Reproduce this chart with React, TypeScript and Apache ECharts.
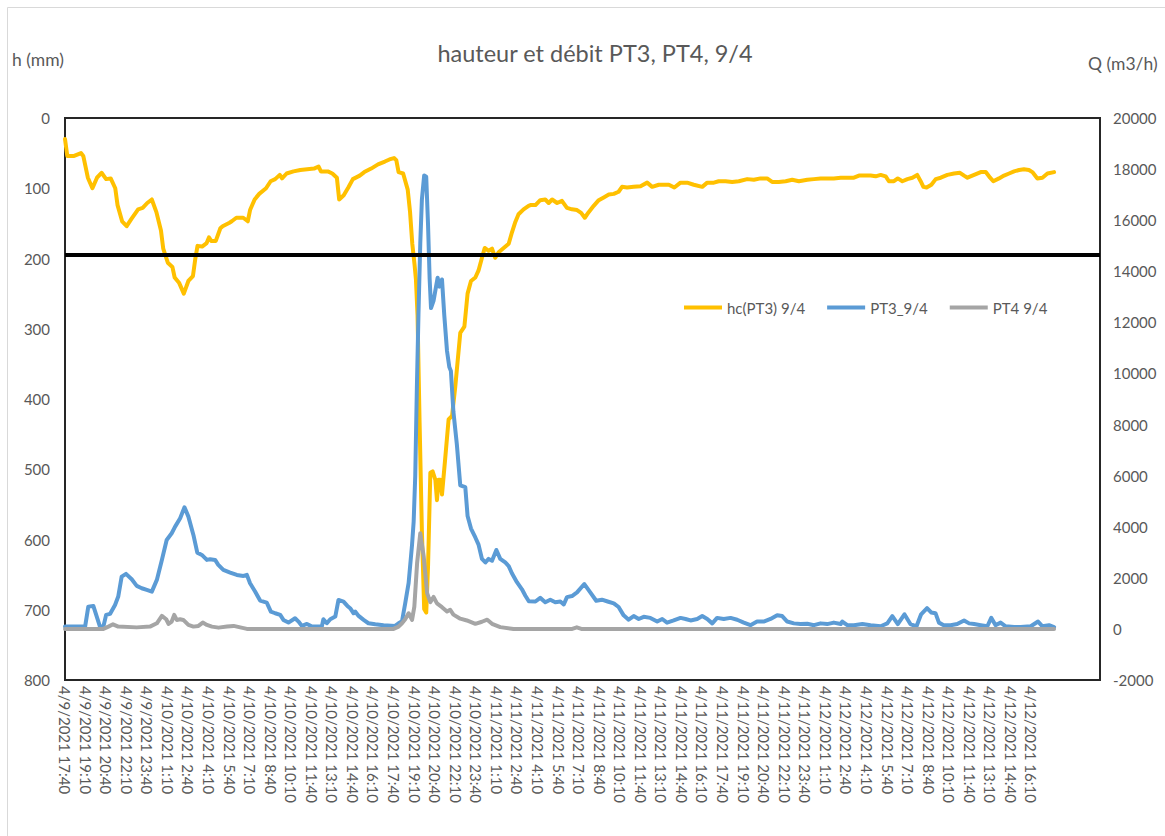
import React, { useEffect, useRef } from 'react';
import * as echarts from 'echarts';

// x values are minutes elapsed since 4/9/2021 17:40 (10-minute records)
const xTickLabels: string[] = [
  '4/9/2021 17:40', '4/9/2021 19:10', '4/9/2021 20:40', '4/9/2021 22:10', '4/9/2021 23:40',
  '4/10/2021 1:10', '4/10/2021 2:40', '4/10/2021 4:10', '4/10/2021 5:40', '4/10/2021 7:10',
  '4/10/2021 8:40', '4/10/2021 10:10', '4/10/2021 11:40', '4/10/2021 13:10', '4/10/2021 14:40',
  '4/10/2021 16:10', '4/10/2021 17:40', '4/10/2021 19:10', '4/10/2021 20:40', '4/10/2021 22:10',
  '4/10/2021 23:40', '4/11/2021 1:10', '4/11/2021 2:40', '4/11/2021 4:10', '4/11/2021 5:40',
  '4/11/2021 7:10', '4/11/2021 8:40', '4/11/2021 10:10', '4/11/2021 11:40', '4/11/2021 13:10',
  '4/11/2021 14:40', '4/11/2021 16:10', '4/11/2021 17:40', '4/11/2021 19:10', '4/11/2021 20:40',
  '4/11/2021 22:10', '4/11/2021 23:40', '4/12/2021 1:10', '4/12/2021 2:40', '4/12/2021 4:10',
  '4/12/2021 5:40', '4/12/2021 7:10', '4/12/2021 8:40', '4/12/2021 10:10', '4/12/2021 11:40',
  '4/12/2021 13:10', '4/12/2021 14:40', '4/12/2021 16:10',
];

// hc(PT3) 9/4 : height in mm (left axis, inverted)
const hcPT3: [number, number][] = [
  [0,30],[10,54],[40,54],[70,50],[80,54],[100,85],[120,100],[140,85],[160,78],[180,87],[200,86],[220,100],
  [230,124],[250,147],[270,154],[290,144],[320,130],[340,128],[360,121],[380,116],[400,134],[420,160],[430,186],
  [450,206],[470,212],[480,227],[500,235],[520,250],[540,232],[560,225],[570,201],[580,182],[600,183],[620,178],
  [630,170],[640,175],[660,175],[680,157],[690,154],[720,149],[730,147],[750,142],[780,142],[800,147],[810,131],
  [830,116],[850,108],[880,100],[900,90],[920,87],[940,81],[950,86],[970,79],[1000,76],[1030,74],[1060,73],
  [1090,72],[1110,69],[1120,76],[1150,76],[1170,79],[1190,85],[1200,116],[1220,110],[1240,99],[1260,87],[1290,82],
  [1310,77],[1340,72],[1370,66],[1400,62],[1420,59],[1440,57],[1450,60],[1460,77],[1480,79],[1500,102],[1510,133],
  [1520,179],[1530,209],[1536,230],[1543,281],[1552,434],[1562,587],[1572,699],[1581,704],[1589,638],[1599,505],
  [1609,503],[1621,515],[1628,544],[1635,515],[1643,515],[1650,536],[1664,485],[1679,429],[1694,424],[1708,383],
  [1730,306],[1748,297],[1762,250],[1777,232],[1796,227],[1810,217],[1825,199],[1837,185],[1854,189],[1869,186],
  [1883,199],[1898,191],[1920,185],[1942,179],[1956,163],[1971,148],[1985,137],[2007,130],[2029,125],[2037,124],
  [2059,124],[2080,117],[2102,116],[2117,121],[2132,116],[2154,121],[2175,118],[2197,128],[2219,130],[2241,131],
  [2259,135],[2275,142],[2292,134],[2314,125],[2336,117],[2358,113],[2380,109],[2402,108],[2423,105],[2438,98],
  [2460,99],[2489,98],[2519,97],[2548,92],[2570,98],[2599,95],[2621,95],[2643,95],[2667,99],[2694,92],[2723,92],
  [2752,95],[2789,98],[2811,92],[2840,92],[2861,90],[2891,90],[2920,91],[2949,90],[2986,87],[3015,88],[3044,86],
  [3073,86],[3095,91],[3124,91],[3154,90],[3183,88],[3212,90],[3249,88],[3278,87],[3307,86],[3336,86],[3365,86],
  [3395,85],[3424,85],[3453,85],[3475,82],[3504,82],[3526,82],[3548,83],[3570,81],[3592,83],[3606,90],[3628,90],
  [3645,86],[3665,90],[3687,87],[3709,85],[3730,81],[3745,90],[3757,98],[3771,99],[3792,95],[3811,87],[3833,85],
  [3862,81],[3891,79],[3917,78],[3935,82],[3950,85],[3979,81],[4008,77],[4030,77],[4049,85],[4063,90],[4088,86],
  [4110,82],[4132,79],[4154,76],[4176,74],[4197,73],[4219,74],[4234,77],[4256,86],[4278,85],[4300,79],[4329,77],
];

// PT3_9/4 : flow in m3/h (right axis)
const flowPT3: [number, number][] = [
  [0,90],[88,90],[102,873],[124,900],[139,482],[153,90],[168,90],[180,548],[197,587],[219,939],[233,1266],
  [248,2048],[267,2153],[292,1944],[314,1683],[336,1592],[358,1526],[380,1461],[402,1918],[424,2701],[445,3483],
  [467,3745],[482,4005],[504,4332],[523,4763],[540,4396],[562,3679],[579,2986],[599,2896],[621,2701],[635,2728],
  [657,2701],[671,2505],[693,2309],[723,2205],[752,2114],[781,2074],[796,2114],[810,1788],[832,1461],[854,1109],
  [883,1031],[901,679],[920,613],[942,548],[956,352],[978,248],[1007,418],[1022,287],[1037,117],[1059,196],
  [1081,90],[1124,90],[1131,378],[1146,222],[1161,378],[1183,482],[1197,1135],[1219,1070],[1236,900],[1248,810],
  [1263,613],[1270,679],[1285,509],[1307,352],[1328,222],[1358,183],[1394,144],[1445,117],[1460,222],[1475,300],
  [1489,1000],[1504,1800],[1519,3300],[1526,4200],[1533,6000],[1540,9400],[1547,12300],[1555,15100],[1562,16800],
  [1572,17750],[1581,17700],[1589,15800],[1596,13700],[1602,12560],[1613,12840],[1624,13400],[1631,13750],
  [1639,13400],[1650,13680],[1660,12280],[1672,10880],[1682,10250],[1689,10100],[1700,8500],[1715,7230],
  [1730,5620],[1752,5550],[1762,4420],[1777,3930],[1796,3580],[1810,3300],[1825,2740],[1840,2600],[1854,2740],
  [1869,2670],[1888,3090],[1905,2740],[1927,2600],[1942,2460],[1956,2180],[1978,1830],[2000,1550],[2015,1300],
  [2030,1080],[2059,1072],[2080,1215],[2102,1044],[2124,1143],[2146,1044],[2168,1072],[2183,958],[2197,1243],
  [2219,1286],[2241,1428],[2273,1756],[2299,1428],[2325,1101],[2350,1143],[2375,1072],[2402,1001],[2423,858],
  [2445,531],[2467,360],[2489,502],[2511,388],[2533,474],[2562,431],[2592,289],[2614,388],[2635,246],[2664,331],
  [2694,431],[2716,388],[2738,331],[2767,388],[2789,502],[2811,388],[2833,217],[2854,431],[2883,388],[2913,431],
  [2942,360],[2971,246],[3000,146],[3029,289],[3058,289],[3088,388],[3117,531],[3139,502],[3161,289],[3190,217],
  [3219,189],[3249,200],[3278,146],[3307,217],[3336,189],[3365,246],[3395,189],[3402,289],[3424,146],[3453,146],
  [3490,189],[3526,146],[3570,103],[3599,217],[3621,502],[3645,189],[3674,573],[3700,189],[3727,103],[3747,573],
  [3773,815],[3791,644],[3810,616],[3825,246],[3846,146],[3876,146],[3905,189],[3935,331],[3957,217],[3979,189],
  [4008,146],[4037,103],[4054,431],[4073,146],[4095,246],[4117,103],[4154,74],[4183,74],[4227,103],[4259,289],
  [4278,103],[4307,146],[4329,74],
];

// PT4 9/4 : flow in m3/h (right axis)
const flowPT4: [number, number][] = [
  [0,0],[168,0],[190,90],[210,180],[233,90],[314,60],[372,90],[402,220],[424,509],[443,378],[453,196],[467,287],
  [478,548],[489,352],[504,378],[518,352],[540,157],[562,90],[584,117],[603,248],[621,157],[643,90],[672,50],
  [709,90],[738,117],[767,60],[796,0],[1438,0],[1460,90],[1475,220],[1489,378],[1504,613],[1519,352],[1529,873],
  [1541,2570],[1555,3744],[1570,2831],[1585,1400],[1599,1050],[1613,1250],[1628,1000],[1650,850],[1672,680],
  [1686,750],[1700,560],[1730,400],[1759,330],[1796,200],[1825,280],[1848,360],[1869,200],[1905,70],[1963,0],
  [2220,0],[2240,60],[2260,0],[4329,0],
];

const thresholdH = 195;
const seriesNames = ['hc(PT3) 9/4', 'PT3_9/4', 'PT4 9/4'];

const FONT = "Lato, 'Liberation Sans', sans-serif";
const TXT = '#595959';

export default function App() {
  const ref = useRef<HTMLDivElement>(null);
  useEffect(() => {
    const chart = echarts.init(ref.current!, null, { renderer: 'svg' });
    chart.setOption({
      animation: false,
      backgroundColor: '#ffffff',
      textStyle: { fontFamily: FONT },
      title: {
        text: 'hauteur et débit PT3, PT4, 9/4',
        left: 590,
        textAlign: 'center',
        top: 36,
        textStyle: { fontFamily: FONT, fontSize: 23.5, fontWeight: 'normal', color: TXT },
      },
      legend: {
        data: seriesNames,
        left: 679,
        top: 295,
        icon: 'rect',
        itemWidth: 38,
        itemHeight: 4,
        itemGap: 22,
        textStyle: { fontFamily: FONT, fontSize: 15, color: TXT },
      },
      grid: {
        left: 65,
        top: 118,
        width: 1035,
        height: 562,
        show: true,
        borderColor: '#262626',
        borderWidth: 2,
        containLabel: false,
      },
      graphic: [
        { type: 'line', silent: true, shape: { x1: 7.5, y1: 7.5, x2: 1165, y2: 7.5 }, style: { stroke: '#D9D9D9', lineWidth: 1 } },
        { type: 'line', silent: true, shape: { x1: 7.5, y1: 7.5, x2: 7.5, y2: 836 }, style: { stroke: '#D9D9D9', lineWidth: 1 } },
        { type: 'text', left: 12, top: 50, style: { text: 'h (mm)', fontFamily: FONT, fontSize: 17.5, fill: TXT } },
        { type: 'text', left: 1088, top: 54, style: { text: 'Q (m3/h)', fontFamily: FONT, fontSize: 17.5, fill: TXT } },
      ],
      xAxis: {
        type: 'value',
        min: 0,
        max: 4530,
        interval: 90,
        axisLine: { show: false },
        axisTick: { show: false },
        splitLine: { show: false },
        axisLabel: {
          rotate: -90,
          margin: 6,
          color: TXT,
          fontFamily: FONT,
          fontSize: 15,
          showMinLabel: true,
          showMaxLabel: false,
          hideOverlap: false,
          formatter: (v: number) => {
            const i = Math.round(v / 90);
            if (Math.abs(v - i * 90) > 1e-6 || i < 0 || i >= xTickLabels.length) return '';
            return xTickLabels[i];
          },
        },
      },
      yAxis: [
        {
          type: 'value',
          inverse: true,
          min: 0,
          max: 800,
          interval: 100,
          axisLine: { show: false },
          axisTick: { show: false },
          splitLine: { show: false },
          axisLabel: { color: TXT, fontFamily: FONT, fontSize: 15, margin: 15, formatter: (v: number) => String(v) },
        },
        {
          type: 'value',
          min: -2000,
          max: 20000,
          interval: 2000,
          axisLine: { show: false },
          axisTick: { show: false },
          splitLine: { show: false },
          axisLabel: { color: TXT, fontFamily: FONT, fontSize: 15, margin: 13, formatter: (v: number) => String(v) },
        },
      ],
      series: [
        {
          name: seriesNames[0],
          type: 'line',
          yAxisIndex: 0,
          data: hcPT3,
          showSymbol: false,
          symbol: 'none',
          lineStyle: { color: '#FFC000', width: 4, join: 'round', cap: 'round' },
          itemStyle: { color: '#FFC000' },
          markLine: {
            silent: true,
            symbol: 'none',
            label: { show: false },
            lineStyle: { color: '#000000', width: 4, type: 'solid' },
            data: [{ yAxis: thresholdH }],
          },
        },
        {
          name: seriesNames[1],
          type: 'line',
          yAxisIndex: 1,
          data: flowPT3,
          showSymbol: false,
          symbol: 'none',
          lineStyle: { color: '#5B9BD5', width: 4, join: 'round', cap: 'round' },
          itemStyle: { color: '#5B9BD5' },
        },
        {
          name: seriesNames[2],
          type: 'line',
          yAxisIndex: 1,
          data: flowPT4,
          showSymbol: false,
          symbol: 'none',
          lineStyle: { color: '#A5A5A5', width: 4, join: 'round', cap: 'round' },
          itemStyle: { color: '#A5A5A5' },
        },
      ],
    });
    return () => chart.dispose();
  }, []);
  return (
    <div
      ref={ref}
      style={{ position: 'absolute', left: 0, top: 0, width: 1165, height: 836, background: '#fff' }}
    />
  );
}
